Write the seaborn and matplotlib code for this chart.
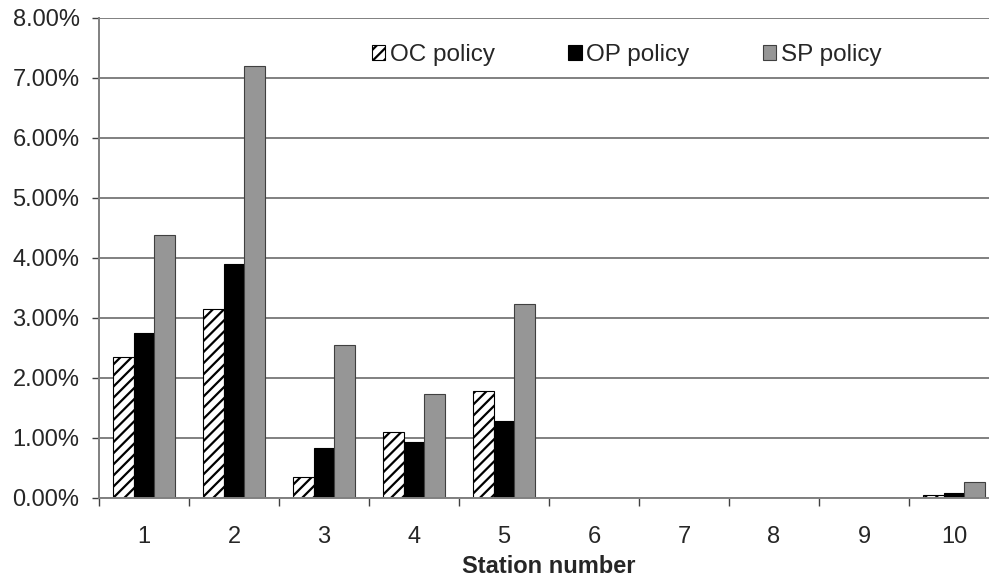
import numpy as np
import pandas as pd
import seaborn as sns
import matplotlib.pyplot as plt
from matplotlib.patches import Patch
from matplotlib.ticker import FuncFormatter, FixedLocator

# values, in percent
stations = ["1", "2", "3", "4", "5", "6", "7", "8", "9", "10"]
oc_policy = [2.35, 3.15, 0.35, 1.10, 1.78, 0.0, 0.0, 0.0, 0.0, 0.05]
op_policy = [2.75, 3.90, 0.83, 0.93, 1.28, 0.0, 0.0, 0.0, 0.0, 0.08]
sp_policy = [4.38, 7.20, 2.55, 1.73, 3.23, 0.0, 0.0, 0.0, 0.0, 0.27]
policies = ["OC policy", "OP policy", "SP policy"]

data = pd.DataFrame({
    "Station": stations * 3,
    "Policy": np.repeat(policies, len(stations)),
    "Rate": oc_policy + op_policy + sp_policy,
})

sns.set_style("white")
plt.rcParams["font.family"] = ["Liberation Sans", "DejaVu Sans"]
plt.rcParams["hatch.linewidth"] = 1.6
fs = 17

fig = plt.figure(figsize=(9.89, 5.81), dpi=100)
ax = fig.add_axes([99 / 989, 1 - 498 / 581, 900 / 989, 480 / 581])

colors = ["white", "black", "#969696"]
sns.barplot(data=data, x="Station", y="Rate", hue="Policy", order=stations,
            hue_order=policies, palette=colors, width=0.69, saturation=1,
            edgecolor="black", linewidth=0.8, ax=ax, legend=False)

# hatch the OC bars
for bar in ax.containers[0]:
    bar.set_hatch("///")
    bar.set_edgecolor("black")
for bar in ax.containers[2]:
    bar.set_edgecolor("#404040")

ax.set_ylim(0, 8)
ax.set_xlim(-0.5, 9.5)
ax.set_yticks(np.arange(0, 8.01, 1))
ax.yaxis.set_major_formatter(FuncFormatter(lambda v, p: f"{v:.2f}%"))
ax.grid(axis="y", color="#808080", linewidth=1.4)
ax.set_axisbelow(True)

for side in ["top", "right"]:
    ax.spines[side].set_visible(False)
for side in ["left", "bottom"]:
    ax.spines[side].set_color("#808080")
    ax.spines[side].set_linewidth(1.4)

ax.tick_params(axis="y", which="major", left=True, length=5, width=1,
               color="#404040", pad=9, labelsize=fs)
ax.tick_params(axis="x", which="major", bottom=False, length=0, pad=20, labelsize=fs)
ax.xaxis.set_minor_locator(FixedLocator(np.arange(-0.5, 10, 1)))
ax.tick_params(axis="x", which="minor", bottom=True, length=6, width=1, color="#404040")

ax.set_xlabel("Station number", fontsize=fs, fontweight="bold", labelpad=5)
ax.set_ylabel("")

handles = [
    Patch(facecolor="white", edgecolor="black", hatch="///", linewidth=0.8),
    Patch(facecolor="black", edgecolor="black", linewidth=0.8),
    Patch(facecolor="#969696", edgecolor="#404040", linewidth=0.8),
]
ax.legend(handles, policies, ncol=3, frameon=False, fontsize=17.5,
          loc="center left", bbox_to_anchor=((372 - 99) / 900, (498 - 55) / 480),
          borderaxespad=0, borderpad=0,
          handlelength=0.55, handleheight=0.55, handletextpad=0.2,
          columnspacing=3.0)

fig.savefig("out.png", dpi=100)
